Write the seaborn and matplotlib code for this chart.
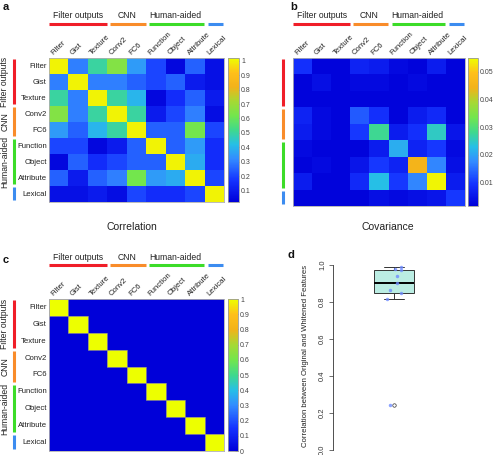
import numpy as np
import pandas as pd
import seaborn as sns
import matplotlib.pyplot as plt
from matplotlib.colors import LinearSegmentedColormap
from matplotlib.patches import Rectangle

sns.set_theme(style='white')
plt.rcParams['font.family'] = ['Liberation Sans', 'DejaVu Sans']

# data
features = ['Filter', 'Gist', 'Texture', 'Conv2', 'FC6',
            'Function', 'Object', 'Attribute', 'Lexical']
groups = ['Filter outputs', 'CNN', 'Human-aided', '']
group_sizes = [3, 2, 3, 1]
group_colors = ['#f01e28', '#f98c2a', '#3cdc28', '#3c8cf0']

correlation = [
    [1.00, 0.30, 0.50, 0.65, 0.35, 0.20, 0.04, 0.25, 0.07],
    [0.30, 1.00, 0.30, 0.30, 0.25, 0.20, 0.25, 0.10, 0.07],
    [0.50, 0.30, 1.00, 0.50, 0.40, 0.04, 0.15, 0.25, 0.10],
    [0.65, 0.30, 0.50, 1.00, 0.50, 0.10, 0.20, 0.30, 0.06],
    [0.35, 0.25, 0.40, 0.50, 1.00, 0.25, 0.25, 0.62, 0.20],
    [0.20, 0.20, 0.04, 0.10, 0.25, 1.00, 0.25, 0.35, 0.15],
    [0.04, 0.25, 0.15, 0.20, 0.25, 0.25, 1.00, 0.38, 0.15],
    [0.25, 0.10, 0.25, 0.30, 0.62, 0.35, 0.38, 1.00, 0.20],
    [0.07, 0.07, 0.10, 0.06, 0.20, 0.15, 0.15, 0.20, 1.00],
]

covariance = [
    [0.009, 0.002, 0.002, 0.007, 0.006, 0.003, 0.002, 0.006, 0.002],
    [0.002, 0.004, 0.002, 0.003, 0.003, 0.002, 0.003, 0.002, 0.002],
    [0.002, 0.002, 0.002, 0.002, 0.002, 0.002, 0.002, 0.002, 0.002],
    [0.007, 0.003, 0.002, 0.013, 0.009, 0.002, 0.006, 0.008, 0.002],
    [0.006, 0.003, 0.002, 0.010, 0.028, 0.006, 0.009, 0.025, 0.005],
    [0.003, 0.002, 0.002, 0.002, 0.006, 0.021, 0.007, 0.010, 0.003],
    [0.002, 0.003, 0.002, 0.005, 0.010, 0.007, 0.045, 0.017, 0.004],
    [0.006, 0.002, 0.002, 0.008, 0.023, 0.010, 0.017, 0.054, 0.006],
    [0.002, 0.002, 0.002, 0.002, 0.004, 0.003, 0.004, 0.005, 0.010],
]

whitened_diag = [1, 1, 1, 1, 1, 1, 1, 1, 1]

orig_vs_whitened = [0.99, 0.98, 0.975, 0.94, 0.90, 0.865, 0.85, 0.815, 0.245]

cmap = LinearSegmentedColormap.from_list('mat', [
    (0.00, (0.00, 0.00, 0.85)),
    (0.15, (0.08, 0.20, 1.00)),
    (0.30, (0.20, 0.55, 1.00)),
    (0.40, (0.15, 0.75, 0.90)),
    (0.50, (0.25, 0.85, 0.55)),
    (0.60, (0.45, 0.90, 0.30)),
    (0.70, (0.65, 0.85, 0.20)),
    (0.80, (0.95, 0.70, 0.10)),
    (0.90, (1.00, 0.75, 0.10)),
    (1.00, (0.93, 1.00, 0.00)),
])

W, H = 495, 455
fig = plt.figure(figsize=(W / 100, H / 100), dpi=100)


def box(x0, y0, x1, y1):
    return fig.add_axes([x0 / W, 1 - y1 / H, (x1 - x0) / W, (y1 - y0) / H])


def group_marks(ax, w_px, h_px, side_px, label_px, with_labels):
    bounds = np.cumsum([0] + group_sizes)
    yb = 1 + 34 / h_px
    yl = 1 + 42 / h_px
    for i, (g, c) in enumerate(zip(groups, group_colors)):
        s, e = bounds[i], bounds[i + 1]
        ax.plot([s + (0.16 if i else 0), e - 0.03], [yb, yb],
                transform=ax.get_xaxis_transform(), color=c, lw=2.2,
                clip_on=False, solid_capstyle='butt')
        ax.plot([side_px / w_px] * 2, [s + 0.08, e - 0.1],
                transform=ax.get_yaxis_transform(), color=c, lw=2.2,
                clip_on=False, solid_capstyle='butt')
        if g:
            ax.text((s + e) / 2, yl, g, transform=ax.get_xaxis_transform(),
                    ha='center', va='center', fontsize=6.2, color='#222')
            if with_labels:
                ax.text(label_px / w_px, (s + e) / 2, g,
                        transform=ax.get_yaxis_transform(), rotation=90,
                        ha='center', va='center', fontsize=6.2, color='#222')


def heat(rect, crect, mat, vmin, vmax, cticks, clabels, show_rows,
         side_px, label_px):
    ax = box(*rect)
    cax = box(*crect)
    df = pd.DataFrame(mat, index=features, columns=features)
    sns.heatmap(df, ax=ax, cbar_ax=cax, cmap=cmap, vmin=vmin, vmax=vmax,
                xticklabels=features, yticklabels=features if show_rows else False)
    ax.xaxis.tick_top()
    ax.set_xticks(np.arange(9) + 0.3, labels=features)
    for t in ax.get_xticklabels():
        t.set_rotation(45)
        t.set_ha('left')
        t.set_rotation_mode('anchor')
        t.set_fontsize(5.6)
        t.set_color('#222')
    if show_rows:
        ax.set_yticks(np.arange(9) + 0.5, labels=features)
        for t in ax.get_yticklabels():
            t.set_rotation(0)
            t.set_fontsize(5.6)
            t.set_color('#222')
    ax.tick_params(length=0, pad=1.5)
    ax.set_xlabel('')
    ax.set_ylabel('')
    for s in ax.spines.values():
        s.set_visible(True)
        s.set_color('#b0b0b0')
        s.set_linewidth(0.6)
    cb = ax.collections[0].colorbar
    cb.outline.set_edgecolor('#999999')
    cb.outline.set_linewidth(0.6)
    cax.set_yticks(cticks, labels=clabels)
    cax.tick_params(direction='in', length=2, width=0.4, colors='#444',
                    labelsize=5, pad=1.5)
    w_px = rect[2] - rect[0]
    h_px = rect[3] - rect[1]
    group_marks(ax, w_px, h_px, side_px, label_px, show_rows)
    return ax


ticks_a = [0.1, 0.2, 0.3, 0.4, 0.5, 0.6, 0.7, 0.8, 0.9, 1.0]
heat((49, 58, 224, 202), (228, 58, 239, 202), correlation, 0.02, 1.02,
     ticks_a, ['0.1', '0.2', '0.3', '0.4', '0.5', '0.6', '0.7', '0.8', '0.9', '1'],
     True, -35, -44)

ticks_b = [0.01, 0.02, 0.03, 0.04, 0.05]
heat((293, 58, 465, 206), (468, 58, 478, 206), covariance, 0.0015, 0.055,
     ticks_b, ['0.01', '0.02', '0.03', '0.04', '0.05'], False, -10, -20)

whitened = np.diag(whitened_diag)
ticks_c = [0, 0.1, 0.2, 0.3, 0.4, 0.5, 0.6, 0.7, 0.8, 0.9, 1.0]
ax_c = heat((49, 299, 224, 451), (228, 299, 238, 451), whitened, 0, 1,
            ticks_c, ['0', '0.1', '0.2', '0.3', '0.4', '0.5', '0.6', '0.7', '0.8', '0.9', '1'],
            True, -35, -44)
# grey outline round the unit diagonal cells
for i, v in enumerate(whitened_diag):
    if v:
        ax_c.add_patch(Rectangle((i, i), 1, 1, fill=False, ec='#8a8a8a', lw=0.6))

fig.text(132 / W, 1 - 227 / H, 'Correlation', ha='center', va='center',
         fontsize=7.5, color='#222')
fig.text(388 / W, 1 - 227 / H, 'Covariance', ha='center', va='center',
         fontsize=7.5, color='#222')

# panel d
ax_d = box(333, 260, 455, 452)
sns.boxplot(y=orig_vs_whitened, ax=ax_d, width=0.33, color='#b3f5e8',
            linecolor='#333333', linewidth=0.7,
            medianprops=dict(color='black', linewidth=1.4),
            flierprops=dict(marker='o', markersize=2.5, markerfacecolor='none',
                            markeredgecolor='#333333', markeredgewidth=0.5))
np.random.seed(4)
sns.stripplot(y=orig_vs_whitened, ax=ax_d, color='#6f8cff', size=2.5,
              alpha=0.8, jitter=0.06, linewidth=0)
ax_d.set_xlim(-0.5, 0.5)
ax_d.set_ylim(-0.012, 1.027)
for s in ['top', 'right', 'bottom']:
    ax_d.spines[s].set_visible(False)
ax_d.spines['left'].set_bounds(0, 1)
ax_d.spines['left'].set_color('#333333')
ax_d.spines['left'].set_linewidth(0.6)
ax_d.set_xticks([])
ax_d.set_yticks([0, 0.2, 0.4, 0.6, 0.8, 1.0],
                labels=['0.0', '0.2', '0.4', '0.6', '0.8', '1.0'])
for t in ax_d.get_yticklabels():
    t.set_rotation(90)
    t.set_va('center')
ax_d.tick_params(axis='y', left=True, length=3, width=0.5, color='#333',
                 labelsize=5.5, labelcolor='#333', pad=2)
ax_d.set_ylabel('Correlation between Original and Whitened Features',
                fontsize=5.6, color='#222', labelpad=7)

for lab, x, y in [('a', 3, 7), ('b', 290, 7), ('c', 3, 260), ('d', 288, 255)]:
    fig.text(x / W, 1 - y / H, lab, fontsize=8, fontweight='bold',
             ha='left', va='center', color='#111')

fig.savefig('out.png', dpi=100)
